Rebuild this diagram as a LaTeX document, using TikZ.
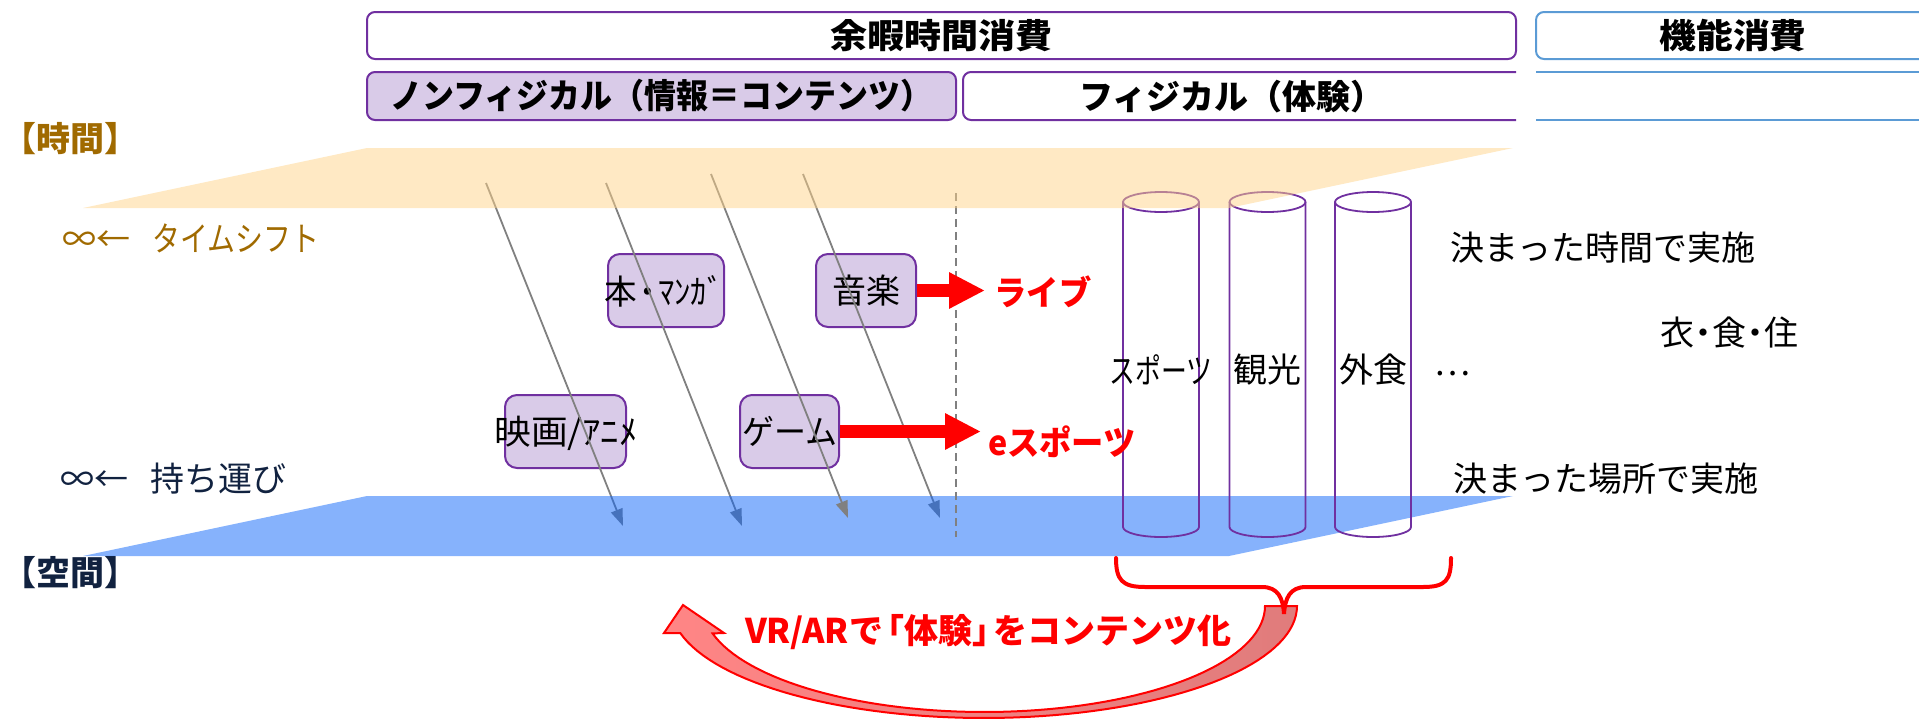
\documentclass[tikz,border=0pt]{standalone}
\usepackage{fontspec}
\setmainfont{Noto Sans CJK JP}
\usepackage{graphicx}
\usetikzlibrary{arrows.meta}
\definecolor{purp}{HTML}{7030A0}
\definecolor{lav}{HTML}{D9CBE8}
\definecolor{bluebd}{HTML}{5B9BD5}
\definecolor{timec}{HTML}{A06A00}
\definecolor{spacec}{HTML}{112240}
\definecolor{orangeP}{RGB}{255,211,137}
\definecolor{blueP}{RGB}{13,101,249}
\definecolor{arrg}{HTML}{808080}
\definecolor{pinkL}{HTML}{FF8585}
\definecolor{pinkD}{HTML}{E07C7C}
\newcommand{\hsc}[2]{\scalebox{#1}[1]{#2}}
\begin{document}
\begin{tikzpicture}[x=1pt,y=-1pt,
  lbl/.style={inner sep=0pt, font=\fontsize{34}{40}\selectfont},
  blbl/.style={inner sep=0pt, font=\bfseries\fontsize{34}{40}\selectfont},
  hdrbox/.style={draw=purp, line width=2pt, rounded corners=8pt, inner sep=0pt},
  itembox/.style={draw=purp, fill=lav, line width=2pt, rounded corners=12pt, inner sep=0pt},
  grayarr/.style={draw=arrg, line width=1.8pt, -{Triangle[length=17pt,width=12pt]}},
  redarr/.style={draw=red, line width=13pt, -{Triangle[length=36pt,width=34pt]}},
  cyl/.style={draw=purp, line width=1.8pt},
]
\useasboundingbox (0,0) rectangle (1919,718);
\clip (0,0) rectangle (1919,718);

% header row
\node[hdrbox, blbl, minimum width=1149pt, minimum height=47pt] (leisure) at (941.5,35.5) {\hsc{1.09}{余暇時間消費}};
\node[hdrbox, blbl, draw=bluebd, minimum width=394pt, minimum height=47pt] (func) at (1733,35.5) {\hsc{1.08}{機能消費}};
\node[itembox, blbl, rounded corners=8pt, minimum width=589pt, minimum height=48pt] (nonphys) at (661.5,96) {\hsc{0.94}{ノンフィジカル（情報＝コンテンツ）}};
\draw[draw=purp, line width=2pt, rounded corners=8pt] (1516,72) -- (963,72) -- (963,120) -- (1516,120);
\node[blbl] (phys) at (1232,97) {フィジカル（体験）};
\draw[bluebd, line width=2pt] (1536,72) -- (1925,72) (1536,120) -- (1925,120);

% left labels
\node[blbl, text=timec, anchor=west] (timeL) at (2,139) {【時間】};
\node[blbl, text=spacec, anchor=west] (spaceL) at (2,573) {【空間】};
\node[lbl, text=timec, anchor=west] (tshift) at (62,238) {∞←\hspace{22pt}\hsc{0.82}{タイムシフト}};
\node[lbl, text=spacec, anchor=west] (carry) at (60,479) {∞←\hspace{22pt}持ち運び};

% content boxes
\node[itembox, minimum width=116pt, minimum height=73pt] (book) at (666,290.5) {};
\node[lbl] (bookt) at (664,291) {\hsc{0.96}{本\hspace{-6pt}・\hspace{-6pt}ﾏﾝｶﾞ}};
\node[itembox, lbl, minimum width=100pt, minimum height=73pt] (music) at (866,290.5) {音楽};
\node[itembox, minimum width=121pt, minimum height=73pt] (movie) at (565.5,431.5) {};
\node[lbl] (moviet) at (566,433) {\hsc{1.08}{映画/ｱﾆﾒ}};
\node[itembox, lbl, minimum width=99pt, minimum height=73pt] (game) at (789.5,431.5) {\hsc{0.94}{ゲーム}};

% gray diagonal arrows
\coordinate (a1s) at (486,183); \coordinate (a1e) at (623,526);
\coordinate (a2s) at (606,183); \coordinate (a2e) at (742,526);
\coordinate (a3s) at (711,174); \coordinate (a3e) at (848,518);
\coordinate (a4s) at (803,174); \coordinate (a4e) at (940,518);
\draw[grayarr] (a1s) -- (a1e);
\draw[grayarr] (a2s) -- (a2e);
\draw[grayarr] (a4s) -- (a4e);

% space plane
\fill[blueP, opacity=0.5] (83,556) -- (367,496) -- (1513,496) -- (1229,556) -- cycle;

\draw[grayarr] (a3s) -- (a3e);
\coordinate (dtop) at (956,193); \coordinate (dbot) at (956,537);
\draw[arrg, line width=1.6pt, dash pattern=on 8pt off 5pt] (dtop) -- (dbot);

% cylinders
\foreach \cx in {1161,1267.5,1373}{
  \draw[cyl] (\cx-38,202) -- (\cx-38,527) .. controls (\cx-38,532.5) and (\cx-21,537) .. (\cx,537)
     .. controls (\cx+21,537) and (\cx+38,532.5) .. (\cx+38,527) -- (\cx+38,202);
  \draw[cyl] (\cx,202) ellipse [x radius=38, y radius=10];
}

% time plane
\fill[orangeP, opacity=0.5] (83,208) -- (367,148) -- (1513,148) -- (1229,208) -- cycle;

% cylinder labels
\node[lbl] (sports) at (1161,370) {\hsc{0.76}{スポーツ}};
\node[lbl] (kanko) at (1267,370) {観光};
\node[lbl] (gaishoku) at (1373,370) {外食};
\node[lbl] (dots) at (1452,374) {…};

% right labels
\node[lbl] (fixtime) at (1603,248) {決まった時間で実施};
\node[lbl] (ifs) at (1729,333) {衣\hspace{-8pt}・\hspace{-8pt}食\hspace{-8pt}・\hspace{-8pt}住};
\node[lbl] (fixplace) at (1606,479) {決まった場所で実施};

% red arrows
\node[blbl, text=red] (live) at (1043,292) {\hsc{0.95}{ライブ}};
\node[blbl, text=red] (esports) at (1062,442) {\hsc{0.95}{eスポーツ}};
\coordinate (tipL) at (985,290.5);
\coordinate (tipE) at (981,431.5);
\draw[redarr] (music.east) -- (tipL);
\draw[redarr] (game.east) -- (tipE);

% curved block arrow
\path[draw=red, line width=2pt, left color=pinkL, right color=pinkD]
  (1265,606) -- (1297,606)
  -- plot[domain=0:166, samples=70] ({984+313*cos(\x)}, {606+112*sin(\x)})
  -- (664,633) -- (683,605) -- (724,633)
  -- plot[domain=165:0, samples=70] ({984+281*cos(\x)}, {606+106*sin(\x)})
  -- cycle;
\node[blbl, text=red] (vrar) at (988,632) {VR/ARで\hspace{-13pt}「体験」\hspace{-13pt}をコンテンツ化};

% brace
\draw[red, line width=4pt, line cap=round]
  (1116,558) .. controls (1116,580) and (1122,587) .. (1145,587) -- (1262,587)
  .. controls (1278,587) and (1283,598) .. (1284,614)
  .. controls (1285,598) and (1290,587) .. (1306,587) -- (1423,587)
  .. controls (1446,587) and (1451,580) .. (1451,558);
\end{tikzpicture}
\end{document}
